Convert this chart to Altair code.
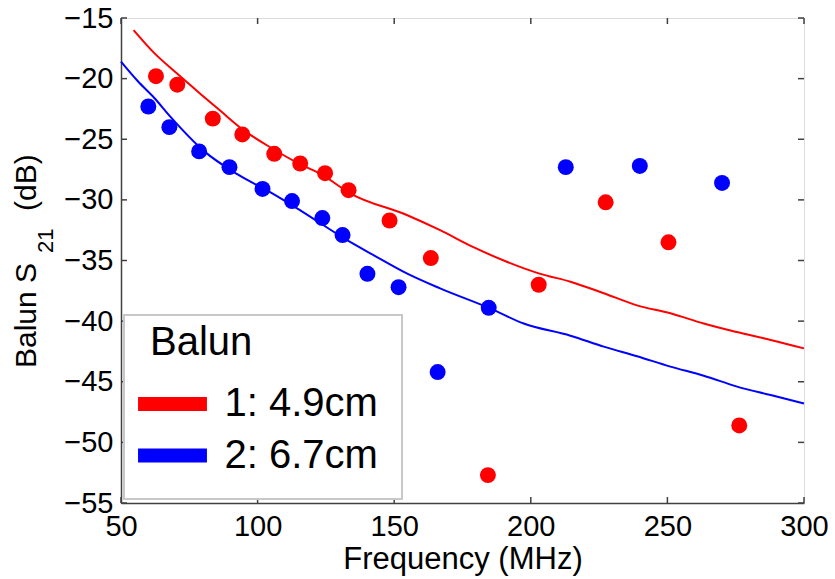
import altair as alt
import pandas as pd

# Measured points
freq_red = [62.8, 70.6, 83.6, 94.4, 106.1, 115.6, 124.7, 133.3, 148.3, 163.4, 184.3, 202.9, 227.4, 250.4, 276.3]
s21_red = [-19.8, -20.5, -23.3, -24.6, -26.2, -27.0, -27.8, -29.2, -31.7, -34.8, -52.7, -37.0, -30.2, -33.5, -48.6]
freq_blue = [60.0, 67.7, 78.6, 89.7, 101.8, 112.6, 123.7, 131.1, 140.2, 151.6, 165.9, 184.6, 212.8, 239.9, 270.0]
s21_blue = [-22.3, -24.0, -26.0, -27.3, -29.1, -30.1, -31.5, -32.9, -36.1, -37.2, -44.2, -38.9, -27.3, -27.2, -28.6]

# Model curves
curve_red_x = [54.6, 62.2, 70.1, 79.3, 86.6, 94.0, 104.9, 115.9, 123.3, 134.2, 154.6, 166.8, 179.0, 191.2,
               203.5, 214.5, 226.7, 238.9, 251.1, 263.3, 275.5, 287.8, 300.0]
curve_red_y = [-16.0, -17.9, -19.5, -21.3, -22.7, -24.1, -25.7, -27.1, -27.9, -29.5, -31.25, -32.5, -33.9, -35.1,
               -36.1, -36.75, -37.7, -38.7, -39.35, -40.2, -40.9, -41.55, -42.25]
curve_blue_x = [50.0, 56.1, 62.2, 68.3, 80.5, 92.7, 104.9, 115.9, 132.6, 142.4, 154.6, 166.8, 185.1, 197.4,
                214.5, 226.7, 238.9, 251.1, 263.3, 275.5, 287.8, 300.0]
curve_blue_y = [-18.6, -20.2, -21.6, -23.2, -26.0, -27.9, -29.4, -30.9, -33.3, -34.55, -36.06, -37.3, -38.95, -40.2,
                -41.2, -42.1, -42.9, -43.75, -44.5, -45.4, -46.1, -46.8]

series_names = ["1: 4.9cm", "2: 6.7cm"]
series_colors = ["#ff0000", "#0000ff"]
x_ticks = [50, 100, 150, 200, 250, 300]
y_ticks = [-55, -50, -45, -40, -35, -30, -25, -20, -15]

pts = pd.DataFrame({
    "f": freq_red + freq_blue,
    "s": s21_red + s21_blue,
    "Balun": [series_names[0]] * len(freq_red) + [series_names[1]] * len(freq_blue),
})
curves = pd.DataFrame({
    "f": curve_red_x + curve_blue_x,
    "s": curve_red_y + curve_blue_y,
    "Balun": [series_names[0]] * len(curve_red_x) + [series_names[1]] * len(curve_blue_x),
    "o": list(range(len(curve_red_x))) + list(range(len(curve_blue_x))),
})

W, H = 683, 485
FONT = "Liberation Sans"

xscale = alt.Scale(domain=[50, 300], nice=False, zero=False)
yscale = alt.Scale(domain=[-55, -15], nice=False, zero=False)

legend = alt.Legend(
    title="Balun", orient="none", legendX=29, legendY=305,
    symbolType="M-2.65,0H2.65", symbolSize=676, symbolStrokeWidth=14,
    symbolOffset=2.5, labelOffset=32,
    labelFontSize=40, titleFontSize=40, titleFontWeight="normal",
    labelFont=FONT, titleFont=FONT, labelColor="black", titleColor="black",
    padding=0, titlePadding=21, rowPadding=-4.4,
)
color = alt.Color("Balun:N", scale=alt.Scale(domain=series_names, range=series_colors), legend=legend)

xaxis = alt.Axis(values=x_ticks, tickSize=0, grid=False, labelFontSize=29, labelFont=FONT,
                 labelColor="black", labelPadding=9, labelFlush=False, labelOverlap=False,
                 title="Frequency (MHz)", titleFontSize=31, titleFont=FONT, titleFontWeight="normal",
                 titleColor="black", titleX=W / 2, titleY=65, titleBaseline="alphabetic",
                 domainColor="#404040", domainWidth=1.5)
yaxis = alt.Axis(values=y_ticks, tickSize=0, grid=False, labelFontSize=29, labelFont=FONT,
                 labelColor="black", labelPadding=8, labelFlush=False, labelOverlap=False,
                 title=None, domainColor="#404040", domainWidth=1.5)

one = pd.DataFrame({"a": [0]})
legend_box = alt.Chart(one).mark_rect(fill="white", stroke="#c8c8c8", strokeWidth=2).encode(
    x=alt.value(3), x2=alt.value(281), y=alt.value(297), y2=alt.value(481))

lines = alt.Chart(curves).mark_line(strokeWidth=2, interpolate="monotone").encode(
    x=alt.X("f:Q", scale=xscale, axis=xaxis),
    y=alt.Y("s:Q", scale=yscale, axis=yaxis),
    color=color,
    order="o:Q",
)
points = alt.Chart(pts).mark_circle(size=255, opacity=1).encode(
    x=alt.X("f:Q", scale=xscale),
    y=alt.Y("s:Q", scale=yscale),
    color=color,
)

tick_col = "#404040"
xt = pd.DataFrame({"t": x_ticks})
yt = pd.DataFrame({"t": y_ticks})
xt_bot = alt.Chart(xt).mark_rule(color=tick_col, strokeWidth=1.5).encode(
    x=alt.X("t:Q", scale=xscale), y=alt.value(H), y2=alt.value(H - 6))
xt_top = alt.Chart(xt).mark_rule(color=tick_col, strokeWidth=1.5).encode(
    x=alt.X("t:Q", scale=xscale), y=alt.value(0), y2=alt.value(6))
yt_l = alt.Chart(yt).mark_rule(color=tick_col, strokeWidth=1.5).encode(
    y=alt.Y("t:Q", scale=yscale), x=alt.value(0), x2=alt.value(6))
yt_r = alt.Chart(yt).mark_rule(color=tick_col, strokeWidth=1.5).encode(
    y=alt.Y("t:Q", scale=yscale), x=alt.value(W), x2=alt.value(W - 6))

# y-axis title with subscript, built from three text pieces
yt_main = alt.Chart(one).mark_text(angle=270, align="left", baseline="alphabetic", fontSize=30,
                                   font=FONT, color="black").encode(
    x=alt.value(-85), y=alt.value(350), text=alt.value("Balun S"))
yt_sub = alt.Chart(one).mark_text(angle=270, align="left", baseline="alphabetic", fontSize=22,
                                  font=FONT, color="black").encode(
    x=alt.value(-68), y=alt.value(235), text=alt.value("21"))
yt_unit = alt.Chart(one).mark_text(angle=270, align="left", baseline="alphabetic", fontSize=30,
                                   font=FONT, color="black").encode(
    x=alt.value(-85), y=alt.value(193), text=alt.value("(dB)"))

chart = alt.layer(xt_bot, xt_top, yt_l, yt_r, lines, points, legend_box,
                  yt_main, yt_sub, yt_unit).properties(
    width=W, height=H,
    autosize=alt.AutoSizeParams(type="none"),
    padding={"left": 121, "top": 18, "right": 31, "bottom": 76},
).configure_view(stroke="#404040", strokeWidth=1.5).configure(background="white")

chart.save("out.html", embed_options={"renderer": "svg", "actions": False})
